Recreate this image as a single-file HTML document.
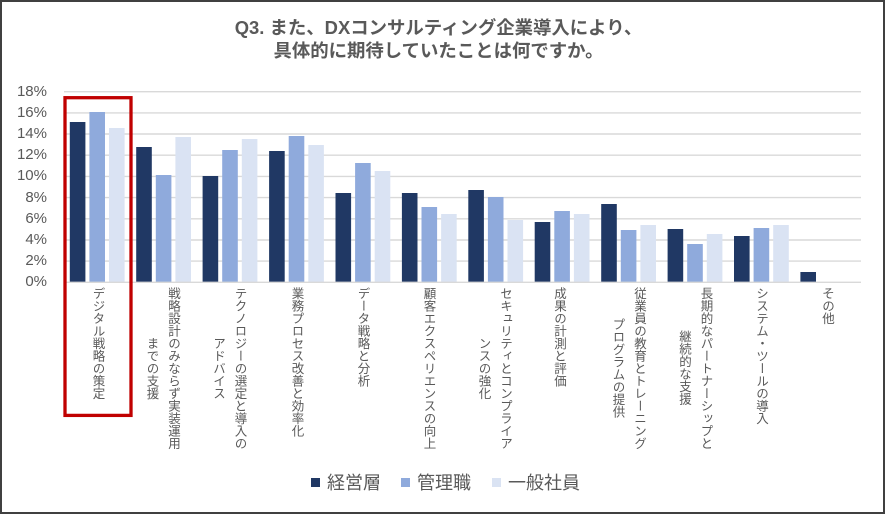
<!DOCTYPE html>
<html><head><meta charset="utf-8">
<style>
html,body{margin:0;padding:0;background:#fff;}
#c{position:relative;width:885px;height:514px;box-sizing:border-box;border:2px solid #404040;background:#fff;overflow:hidden;font-family:"Liberation Sans","Noto Sans CJK JP",sans-serif;color:#595959;}
#t{position:absolute;left:-2px;top:14px;width:877px;text-align:center;font-size:18.4px;font-weight:bold;line-height:23px;color:#595959;}
.yl{position:absolute;left:0;width:45px;text-align:right;font-size:15px;line-height:16px;}
.v{position:absolute;writing-mode:vertical-rl;font-family:"Noto Sans CJK JP",sans-serif;font-size:12.5px;line-height:14px;width:14px;white-space:nowrap;color:#595959;}
.lg{position:absolute;top:469px;font-family:"Noto Sans CJK JP",sans-serif;font-size:18px;line-height:22px;color:#595959;white-space:nowrap;}
.sq{position:absolute;top:476px;width:9px;height:9px;}
svg{position:absolute;left:-2px;top:-2px;}
</style></head><body>
<div id="c">
<svg width="885" height="514" viewBox="0 0 885 514">
<g stroke="#d9d9d9" stroke-width="1.4">
<line x1="64" x2="861" y1="91.7" y2="91.7"/>
<line x1="64" x2="861" y1="112.9" y2="112.9"/>
<line x1="64" x2="861" y1="134.0" y2="134.0"/>
<line x1="64" x2="861" y1="155.2" y2="155.2"/>
<line x1="64" x2="861" y1="176.4" y2="176.4"/>
<line x1="64" x2="861" y1="197.6" y2="197.6"/>
<line x1="64" x2="861" y1="218.8" y2="218.8"/>
<line x1="64" x2="861" y1="240.0" y2="240.0"/>
<line x1="64" x2="861" y1="261.1" y2="261.1"/>
</g>
<g fill="#203864">
<rect x="69.8" y="122" width="15.6" height="160.3"/>
<rect x="136.2" y="147" width="15.6" height="135.3"/>
<rect x="202.6" y="176" width="15.6" height="106.3"/>
<rect x="269.1" y="151" width="15.6" height="131.3"/>
<rect x="335.5" y="193" width="15.6" height="89.3"/>
<rect x="401.9" y="193" width="15.6" height="89.3"/>
<rect x="468.3" y="190" width="15.6" height="92.3"/>
<rect x="534.7" y="222" width="15.6" height="60.3"/>
<rect x="601.2" y="204" width="15.6" height="78.3"/>
<rect x="667.6" y="229" width="15.6" height="53.3"/>
<rect x="734.0" y="236" width="15.6" height="46.3"/>
<rect x="800.4" y="272" width="15.6" height="10.3"/>
</g>
<g fill="#8faadc">
<rect x="89.4" y="112" width="15.6" height="170.3"/>
<rect x="155.8" y="175" width="15.6" height="107.3"/>
<rect x="222.2" y="150" width="15.6" height="132.3"/>
<rect x="288.7" y="136" width="15.6" height="146.3"/>
<rect x="355.1" y="163" width="15.6" height="119.3"/>
<rect x="421.5" y="207" width="15.6" height="75.3"/>
<rect x="487.9" y="197" width="15.6" height="85.3"/>
<rect x="554.3" y="211" width="15.6" height="71.3"/>
<rect x="620.8" y="230" width="15.6" height="52.3"/>
<rect x="687.2" y="244" width="15.6" height="38.3"/>
<rect x="753.6" y="228" width="15.6" height="54.3"/>
</g>
<g fill="#dae3f3">
<rect x="109.0" y="128" width="15.6" height="154.3"/>
<rect x="175.4" y="137" width="15.6" height="145.3"/>
<rect x="241.8" y="139" width="15.6" height="143.3"/>
<rect x="308.3" y="145" width="15.6" height="137.3"/>
<rect x="374.7" y="171" width="15.6" height="111.3"/>
<rect x="441.1" y="214" width="15.6" height="68.3"/>
<rect x="507.5" y="220" width="15.6" height="62.3"/>
<rect x="573.9" y="214" width="15.6" height="68.3"/>
<rect x="640.4" y="225" width="15.6" height="57.3"/>
<rect x="706.8" y="234" width="15.6" height="48.3"/>
<rect x="773.2" y="225" width="15.6" height="57.3"/>
</g>
<line x1="64" x2="861" y1="282.3" y2="282.3" stroke="#d9d9d9" stroke-width="1.4"/>
<rect x="65" y="97.7" width="66" height="317.7" fill="none" stroke="#c00000" stroke-width="3.3"/>
</svg>

<div id="t">Q3. また、DXコンサルティング企業導入により、<br>具体的に期待していたことは何ですか。</div>

<div class="yl" style="top:82px">18%</div>
<div class="yl" style="top:103px">16%</div>
<div class="yl" style="top:124px">14%</div>
<div class="yl" style="top:145px">12%</div>
<div class="yl" style="top:166px">10%</div>
<div class="yl" style="top:188px">8%</div>
<div class="yl" style="top:209px">6%</div>
<div class="yl" style="top:230px">4%</div>
<div class="yl" style="top:251px">2%</div>
<div class="yl" style="top:272px">0%</div>

<div class="v" style="left:89.5px;top:285px">デジタル戦略の策定</div>
<div class="v" style="left:165px;top:285px">戦略設計のみならず実装運用</div>
<div class="v" style="left:143.5px;top:335px">までの支援</div>
<div class="v" style="left:231.5px;top:285px">テクノロジーの選定と導入の</div>
<div class="v" style="left:210px;top:335px">アドバイス</div>
<div class="v" style="left:288.5px;top:285px">業務プロセス改善と効率化</div>
<div class="v" style="left:354.5px;top:285px">データ戦略と分析</div>
<div class="v" style="left:420.5px;top:285px">顧客エクスペリエンスの向上</div>
<div class="v" style="left:497px;top:285px">セキュリティとコンプライア</div>
<div class="v" style="left:475.5px;top:335px">ンスの強化</div>
<div class="v" style="left:551px;top:285px">成果の計測と評価</div>
<div class="v" style="left:631px;top:285px">従業員の教育とトレーニング</div>
<div class="v" style="left:609.5px;top:316px">プログラムの提供</div>
<div class="v" style="left:697.5px;top:285px">長期的なパートナーシップと</div>
<div class="v" style="left:676px;top:328px">継続的な支援</div>
<div class="v" style="left:753px;top:285px">システム・ツールの導入</div>
<div class="v" style="left:819px;top:285px">その他</div>

<div class="sq" style="left:309px;background:#203864"></div>
<div class="lg" style="left:325px">経営層</div>
<div class="sq" style="left:399px;background:#8faadc"></div>
<div class="lg" style="left:415px">管理職</div>
<div class="sq" style="left:490px;background:#dae3f3"></div>
<div class="lg" style="left:506px">一般社員</div>
</div>
</body></html>
